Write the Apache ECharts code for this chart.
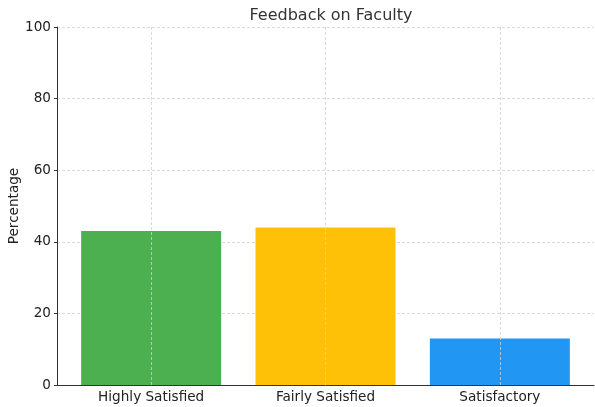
<!DOCTYPE html>
<html>
<head>
<meta charset="utf-8">
<script src="https://cdn.jsdelivr.net/npm/echarts@6/dist/echarts.min.js"></script>
<style>
  html, body { margin: 0; padding: 0; background: #fff; }
  #main { width: 595px; height: 407px; }
</style>
</head>
<body>
<div id="main"></div>
<script>
var categories = ["Highly Satisfied", "Fairly Satisfied", "Satisfactory"];
var percentages = [43, 44, 13];
var barColors = ["#4CAF50", "#FFC107", "#2196F3"];
var yTicks = [0, 20, 40, 60, 80, 100];

var font = "DejaVu Sans";
var myChart = echarts.init(document.getElementById("main"));

var positions = categories.map(function (c, i) { return i; });

var option = {
  backgroundColor: "#fff",
  animation: false,
  title: {
    text: "Feedback on Faculty",
    left: 326,
    top: 3,
    textAlign: "center",
    textStyle: { fontFamily: font, fontSize: 16, fontWeight: "normal", color: "#333" }
  },
  grid: { left: 57, right: 1, top: 27, bottom: 22, containLabel: false, outerBoundsMode: "none" },
  xAxis: {
    type: "value",
    min: -0.54,
    max: 2.54,
    axisLine: { show: true, onZero: false, lineStyle: { color: "#333", width: 1 } },
    axisTick: { show: true, inside: true, length: 3, customValues: positions, lineStyle: { color: "#333" } },
    axisLabel: {
      customValues: positions,
      fontFamily: font, fontSize: 13.6, color: "#222", margin: 5,
      formatter: function (v) { return categories[Math.round(v)]; }
    },
    splitLine: { show: false }
  },
  yAxis: {
    type: "value",
    min: 0,
    max: 100,
    interval: 20,
    name: "Percentage",
    nameLocation: "middle",
    nameGap: 36,
    nameMoveOverlap: false,
    nameTextStyle: { fontFamily: font, fontSize: 13.6, color: "#222" },
    axisLine: { show: true, onZero: false, lineStyle: { color: "#333", width: 1 } },
    axisTick: { show: true, length: 3, lineStyle: { color: "#333" } },
    axisLabel: {
      fontFamily: font, fontSize: 13.6, color: "#222", margin: 6,
      formatter: function (v) { return yTicks.indexOf(v) >= 0 ? String(v) : ""; }
    },
    splitLine: { show: true, lineStyle: { color: "#d0d0d0", type: [3, 2], width: 0.8 } }
  },
  series: [{
    type: "bar",
    barWidth: 140,
    data: percentages.map(function (v, i) {
      return { value: [positions[i], v], itemStyle: { color: barColors[i] } };
    }),
    markLine: {
      silent: true,
      symbol: "none",
      label: { show: false },
      lineStyle: { color: "#d0d0d0", type: [3, 2], width: 0.8 },
      data: positions.map(function (p) { return { xAxis: p }; })
    }
  }]
};

myChart.setOption(option);
</script>
</body>
</html>
